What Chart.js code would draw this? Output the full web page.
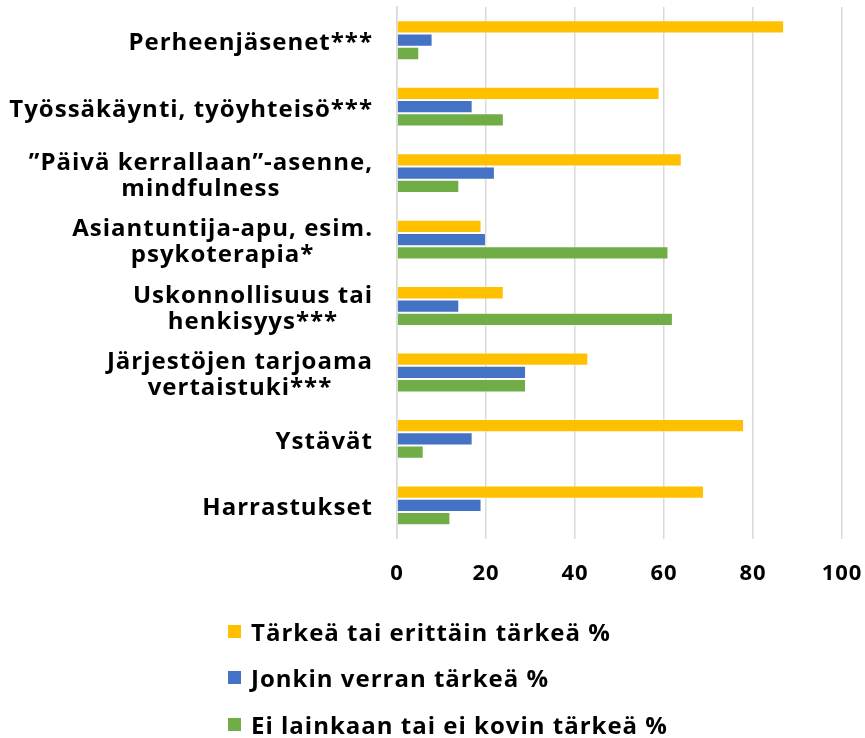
<!DOCTYPE html>
<html>
<head>
<meta charset="utf-8">
<script src="https://cdn.jsdelivr.net/npm/chart.js@4"></script>
<style>
    html, body { margin: 0; padding: 0; background: #fff; overflow: hidden; }
    #wrap { width: 865px; height: 622px; position: relative; }
    #legend { list-style: none; margin: 0; padding: 0; position: absolute; left: 228px; top: 608px;
              font-family: "Open Sans", Lato, sans-serif; font-weight: bold; font-size: 24px;
              letter-spacing: 1px; color: #000; }
    #legend li { display: flex; align-items: center; height: 46.5px; }
    #legend span.box { width: 13px; height: 13px; margin-right: 10px; display: inline-block; }
</style>
</head>
<body>
<div id="wrap"><canvas id="chart"></canvas></div>
<ul id="legend"></ul>
<script>
// categories, top to bottom
const categories = [
    ["Perheenjäsenet***"],
    ["Työssäkäynti, työyhteisö***"],
    ["”Päivä kerrallaan”-asenne,", "mindfulness"],
    ["Asiantuntija-apu, esim.", "psykoterapia*"],
    ["Uskonnollisuus tai", "henkisyys***"],
    ["Järjestöjen tarjoama", "vertaistuki***"],
    ["Ystävät"],
    ["Harrastukset"]
];

const seriesNames = [
    "Tärkeä tai erittäin tärkeä %",
    "Jonkin verran tärkeä %",
    "Ei lainkaan tai ei kovin tärkeä %"
];

const important = [87, 59, 64, 19, 24, 43, 78, 69];
const somewhat = [8, 17, 22, 20, 14, 29, 17, 19];
const notImportant = [5, 24, 14, 61, 62, 29, 6, 12];

const xTicks = [0, 20, 40, 60, 80, 100];

const colors = ["#FFC000", "#4472C4", "#70AD47"];
const FONT = "'Open Sans', Lato, sans-serif";

// the original font is wider than Open Sans, so spread the letters a little
const letterSpacingPlugin = {
    id: 'letterSpacing',
    beforeDraw(chart) { chart.ctx.letterSpacing = '1px'; }
};

// wrapped category labels: each block sits right against the axis,
// but its lines are centred inside the block (like the Excel original)
const blockLabelsPlugin = {
    id: 'blockLabels',
    afterDraw(chart) {
        const ctx = chart.ctx;
        const scale = chart.scales.y;
        const right = scale.right - 24;
        const lineHeight = 26;
        ctx.save();
        ctx.letterSpacing = '1px';
        ctx.font = "bold 24px " + FONT;
        ctx.fillStyle = "#000";
        ctx.textAlign = "center";
        ctx.textBaseline = "middle";
        chart.data.labels.forEach((lines, i) => {
            const blockWidth = Math.max(...lines.map(l => ctx.measureText(l).width));
            const cx = right - blockWidth / 2;
            const cy = scale.getPixelForTick(i) + 3;
            lines.forEach((line, k) => {
                ctx.fillText(line, cx, cy + (k - (lines.length - 1) / 2) * lineHeight);
            });
        });
        ctx.restore();
    }
};

function createChart(ctx) {
    const values = [important, somewhat, notImportant];
    const datasets = values.map((data, i) => ({
        label: seriesNames[i],
        data,
        backgroundColor: colors[i],
        borderColor: "rgba(255,255,255,0.35)",
        borderWidth: 1,
        barPercentage: 1.0,
        categoryPercentage: 0.6
    }));

    return new Chart(ctx, {
        type: 'bar',
        data: { labels: categories, datasets },
        plugins: [letterSpacingPlugin, blockLabelsPlugin],
        options: {
            indexAxis: 'y',
            responsive: true,
            maintainAspectRatio: false,
            animation: false,
            layout: { padding: { top: 7, right: 23, bottom: 13, left: 0 } },
            plugins: {
                legend: { display: false },
                tooltip: { enabled: false }
            },
            scales: {
                x: {
                    min: xTicks[0],
                    max: xTicks[xTicks.length - 1],
                    afterBuildTicks: axis => { axis.ticks = xTicks.map(v => ({ value: v })); },
                    afterFit: axis => { axis.paddingLeft = 0; axis.paddingRight = 0; },
                    grid: { color: "#d9d9d9", lineWidth: 1.5, drawTicks: false },
                    border: { display: false },
                    ticks: {
                        padding: 22,
                        color: "#000",
                        font: { family: FONT, size: 22, weight: 'bold' }
                    }
                },
                y: {
                    grid: { display: false, drawTicks: false },
                    border: { display: true, color: "#d9d9d9", width: 1.5 },
                    afterFit: axis => { axis.width = 397; axis.paddingTop = 0; axis.paddingBottom = 0; },
                    ticks: { display: false }
                }
            }
        }
    });
}

document.addEventListener("DOMContentLoaded", () => {
    createChart(document.getElementById("chart").getContext("2d"));
    const legend = document.getElementById("legend");
    seriesNames.forEach((name, i) => {
        const li = document.createElement("li");
        const box = document.createElement("span");
        box.className = "box";
        box.style.background = colors[i];
        li.appendChild(box);
        li.appendChild(document.createTextNode(name));
        legend.appendChild(li);
    });
});
</script>
</body>
</html>
